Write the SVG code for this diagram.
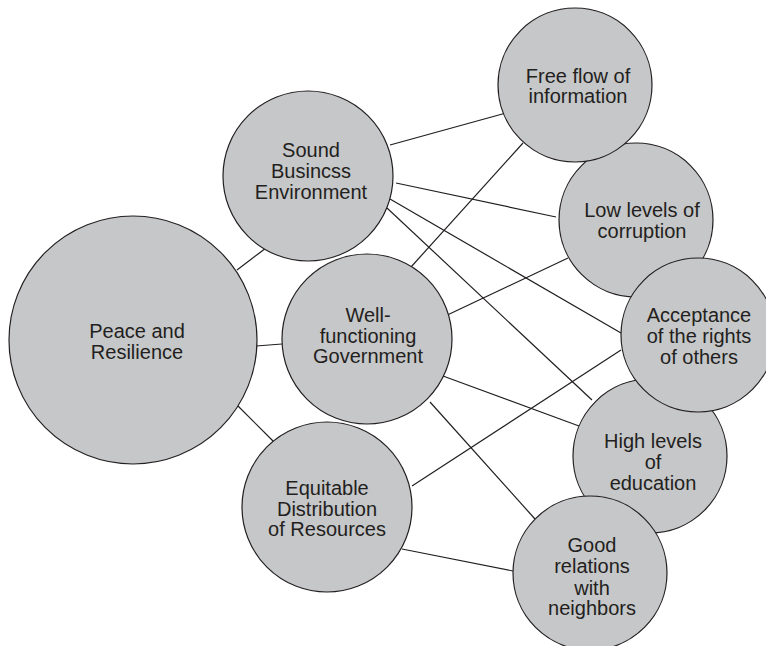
<svg xmlns="http://www.w3.org/2000/svg" width="766" height="646" viewBox="0 0 766 646">
<style>
.n{fill:#c6c7c9;stroke:#231f20;stroke-width:1.2}
.t{font-family:"Liberation Sans",Arial,sans-serif;font-size:20px;fill:#231f20;text-anchor:middle}
.c line{stroke:#231f20;stroke-width:1.2}
</style>
<rect width="766" height="646" fill="#ffffff"/>
<g id="connectors" class="c">
<line x1="237" y1="270" x2="266" y2="248"/>
<line x1="256" y1="346" x2="282" y2="344"/>
<line x1="238" y1="406" x2="273" y2="441"/>
<line x1="390" y1="145" x2="506" y2="113"/>
<line x1="396" y1="183" x2="556" y2="217"/>
<line x1="390" y1="199" x2="621" y2="333"/>
<line x1="387" y1="208" x2="592" y2="400"/>
<line x1="411" y1="267" x2="523" y2="143"/>
<line x1="441" y1="318" x2="568" y2="258"/>
<line x1="443" y1="376" x2="579" y2="426"/>
<line x1="430" y1="402" x2="535" y2="519"/>
<line x1="412" y1="486" x2="621" y2="350"/>
<line x1="402" y1="549" x2="513" y2="571"/>
</g>
<g id="peace">
<circle class="n" cx="133" cy="340" r="124"/>
<text class="t" x="137" y="338">Peace and</text>
<text class="t" x="137" y="359">Resilience</text>
</g>
<g id="sound">
<circle class="n" cx="308" cy="176" r="85"/>
<text class="t" x="311" y="157">Sound</text>
<text class="t" x="311" y="178">Busincss</text>
<text class="t" x="311" y="199">Environment</text>
</g>
<g id="well">
<circle class="n" cx="367" cy="339" r="85"/>
<text class="t" x="368" y="322">Well-</text>
<text class="t" x="368" y="343">functioning</text>
<text class="t" x="368" y="363">Government</text>
</g>
<g id="equitable">
<circle class="n" cx="327" cy="507" r="85"/>
<text class="t" x="327" y="495">Equitable</text>
<text class="t" x="327" y="516">Distribution</text>
<text class="t" x="327" y="536">of Resources</text>
</g>
<g id="corruption">
<circle class="n" cx="636" cy="220" r="77"/>
<text class="t" x="642" y="217">Low levels of</text>
<text class="t" x="642" y="238">corruption</text>
</g>
<g id="freeflow">
<circle class="n" cx="575" cy="85" r="77"/>
<text class="t" x="578" y="83">Free flow of</text>
<text class="t" x="578" y="103">information</text>
</g>
<g id="education">
<circle class="n" cx="650" cy="456" r="77"/>
<text class="t" x="653" y="448">High levels</text>
<text class="t" x="653" y="469">of</text>
<text class="t" x="653" y="490">education</text>
</g>
<g id="acceptance">
<circle class="n" cx="698" cy="335" r="77"/>
<text class="t" x="699" y="322">Acceptance</text>
<text class="t" x="699" y="343">of the rights</text>
<text class="t" x="699" y="364">of others</text>
</g>
<g id="neighbors">
<circle class="n" cx="590" cy="573" r="77"/>
<text class="t" x="592" y="552">Good</text>
<text class="t" x="592" y="573">relations</text>
<text class="t" x="592" y="595">with</text>
<text class="t" x="592" y="615">neighbors</text>
</g>
</svg>
